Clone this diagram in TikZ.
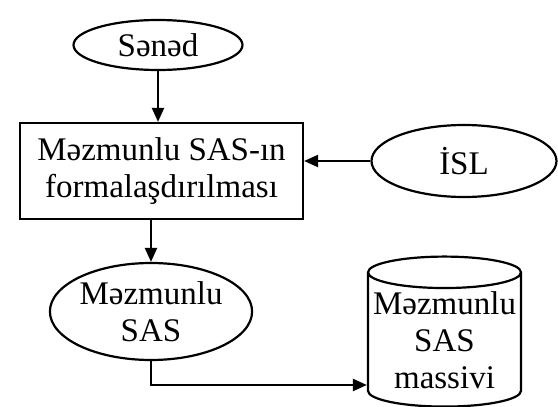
\documentclass[tikz,border=0pt]{standalone}
\usepackage{fontspec}
\setmainfont{Liberation Serif}
\usepackage{tikz}
\usetikzlibrary{arrows.meta,positioning,shapes.geometric}
\tikzset{
  termnode/.style={draw,ellipse,inner sep=0pt,align=center,line width=1.1pt},
  procbox/.style={draw,rectangle,inner sep=0pt,align=center,line width=1.1pt,
    minimum width=141.5pt,minimum height=48pt},
  storenode/.style={draw,cylinder,shape border rotate=90,aspect=0.22,inner sep=0pt,
    align=center,line width=1.1pt,minimum width=76.5pt,minimum height=75pt},
  flowarrow/.style={-{Triangle[length=7pt,width=6pt]},line width=1.1pt}
}

\begin{document}
\begin{tikzpicture}[x=0.5pt,y=-0.5pt,font=\fontsize{16.5}{18.5}\selectfont]
  \useasboundingbox (0,0) rectangle (558,407);
  \node[termnode,minimum width=84.5pt,minimum height=25pt] (senad) at (158,45) {Sənəd};
  \node[procbox] (form) at (161.5,171) {Məzmunlu SAS-ın\\formalaşdırılması};
  \node[termnode,minimum width=92.5pt,minimum height=36pt] (isl) at (464,161) {İSL};
  \node[termnode,minimum width=90pt,minimum height=48.5pt] (sas) at (151,311.5) {Məzmunlu\\SAS};
  \node[storenode] (massiv) at (444.5,340) {Məzmunlu\\SAS\\massivi};
  \draw[flowarrow] (senad.south) -- (senad.south |- form.north);
  \draw[flowarrow] (isl.west) -- (isl.west -| form.east);
  \draw[flowarrow] (form.south -| sas.north) -- (sas.north);
  \draw[flowarrow] (sas.south) |- ([yshift=-22.5pt]massiv.west);
\end{tikzpicture}
\end{document}
